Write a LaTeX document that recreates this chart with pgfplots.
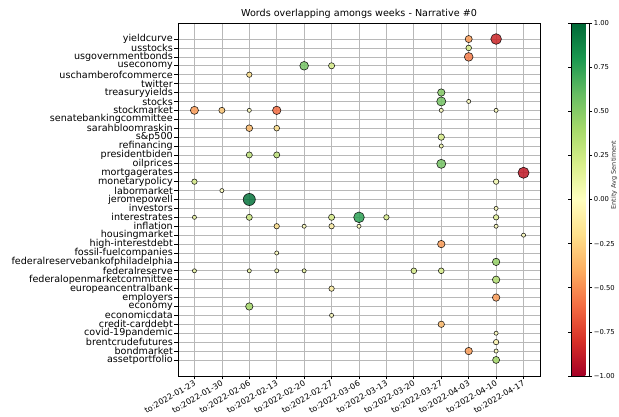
\documentclass[border=0pt]{standalone}
\usepackage{pgfplots}
\pgfplotsset{compat=1.18}
\usepackage{pgfplotstable}
\usepackage{fontspec}
\setmainfont{DejaVu Sans}
\pgfplotstableread{
x y c r
10 36 -0.45 3.55
11 36 -0.85 5.35
10 35 0.2 2.85
10 34 -0.55 4.35
4 33 0.55 4.35
5 33 0.2 3.05
2 32 -0.2 2.7
9 30 0.5 3.7
9 29 0.55 4.55
10 29 0.0 2.05
0 28 -0.45 4.05
1 28 -0.3 3.05
2 28 0.0 2.05
3 28 -0.6 4.2
9 28 0.0 2.05
11 28 0.0 2.05
2 26 -0.35 3.35
3 26 -0.2 2.85
9 25 0.2 3.2
9 24 0.05 2.05
2 23 0.3 3.05
3 23 0.3 3.05
9 22 0.55 4.55
12 21 -0.9 5.55
0 20 0.2 2.7
11 20 0.05 2.7
1 19 0.0 2.05
2 18 0.95 6.05
11 17 0.0 2.05
0 16 0.1 2.05
2 16 0.25 3.05
5 16 0.2 3.05
6 16 0.75 5.35
7 16 0.2 2.7
11 16 0.15 2.7
3 15 -0.2 2.7
4 15 0.0 2.05
5 15 -0.1 2.7
6 15 0.0 2.05
11 15 0.0 2.05
12 14 0.0 2.05
9 13 -0.45 3.7
3 12 0.0 2.05
11 11 0.45 3.7
0 10 0.1 2.05
2 10 0.1 2.05
3 10 0.05 2.05
4 10 0.1 2.05
8 10 0.2 2.85
9 10 0.2 2.85
11 9 0.35 3.7
5 8 -0.1 2.7
11 7 -0.45 3.7
2 6 0.4 3.7
5 5 0.0 2.05
9 4 -0.35 3.2
11 3 0.0 2.05
11 2 -0.05 2.7
10 1 -0.45 3.7
11 1 0.0 2.05
11 0 0.4 3.5
}\pts
\begin{document}
\begin{tikzpicture}
\begin{axis}[
  name=main,
  scale only axis,
  width=362pt, height=353pt,
  xmin=-0.6, xmax=12.6,
  ymin=-1.8, ymax=37.8,
  axis on top,
  grid=major,
  major grid style={color=black!28, line width=0.7pt},
  axis line style={black, line width=0.7pt},
  tick align=outside,
  tick pos=left,
  major tick length=3.5pt,
  tick style={black, line width=0.7pt},
  xtick={0,...,12},
  xticklabels={to:2022-01-23,to:2022-01-30,to:2022-02-06,to:2022-02-13,to:2022-02-20,to:2022-02-27,to:2022-03-06,to:2022-03-13,to:2022-03-20,to:2022-03-27,to:2022-04-03,to:2022-04-10,to:2022-04-17},
  xticklabel style={rotate=30, anchor=north east, font=\fontsize{8}{8.5}\selectfont, inner sep=1pt, yshift=1.5pt},
  ytick={0,...,36},
  yticklabels={assetportfolio,bondmarket,brentcrudefutures,covid-19pandemic,credit-carddebt,economicdata,economy,employers,europeancentralbank,federalopenmarketcommittee,federalreserve,federalreservebankofphiladelphia,fossil-fuelcompanies,high-interestdebt,housingmarket,inflation,interestrates,investors,jeromepowell,labormarket,monetarypolicy,mortgagerates,oilprices,presidentbiden,refinancing,s\&p500,sarahbloomraskin,senatebankingcommittee,stockmarket,stocks,treasuryyields,twitter,uschamberofcommerce,useconomy,usgovernmentbonds,usstocks,yieldcurve},
  yticklabel style={font=\fontsize{9.6}{10}\selectfont, inner sep=1.5pt},
  title={Words overlapping amongs weeks - Narrative \#0},
  title style={font=\fontsize{9.6}{11}\selectfont, yshift=-5pt},
  colormap={RdYlGn}{rgb255=(165,0,38) rgb255=(215,48,39) rgb255=(244,109,67) rgb255=(253,174,97) rgb255=(254,224,139) rgb255=(255,255,191) rgb255=(217,239,139) rgb255=(166,217,106) rgb255=(102,189,99) rgb255=(26,152,80) rgb255=(0,104,55)},
  point meta min=-1, point meta max=1,
  colorbar,
  colorbar style={
    at={(parent axis.north east)}, anchor=north west, xshift=22.7pt,
    width=18pt,
    axis line style={black, line width=0.6pt},
    ytick={-1,-0.75,-0.5,-0.25,0,0.25,0.5,0.75,1},
    yticklabels={−1.00,−0.75,−0.50,−0.25,0.00,0.25,0.50,0.75,1.00},
    yticklabel style={font=\fontsize{6.8}{7}\selectfont, inner sep=1.5pt},
    tick align=outside,
    major tick length=3pt,
    tick style={black, line width=0.6pt},
  },
]
\addplot[
  scatter, only marks, mark=*,
  scatter src=explicit,
  scatter/use mapped color={draw=black, fill=mapped color},
  visualization depends on={\thisrow{r} \as \rad},
  scatter/@pre marker code/.append style={/tikz/mark size=\rad},
  mark options={line width=0.6pt, fill opacity=0.85, draw opacity=0.85},
] table[x=x, y=y, meta=c] {\pts};
\end{axis}
\node[rotate=90, font=\fontsize{6.5}{7}\selectfont, text=black!80] at ([xshift=74pt,yshift=201pt]main.south east) {Entity Avg Sentiment};
\pgfresetboundingbox
\path[use as bounding box] ([xshift=-178pt,yshift=-41pt]main.south west) rectangle ++(619pt,417pt);
\end{tikzpicture}
\end{document}
